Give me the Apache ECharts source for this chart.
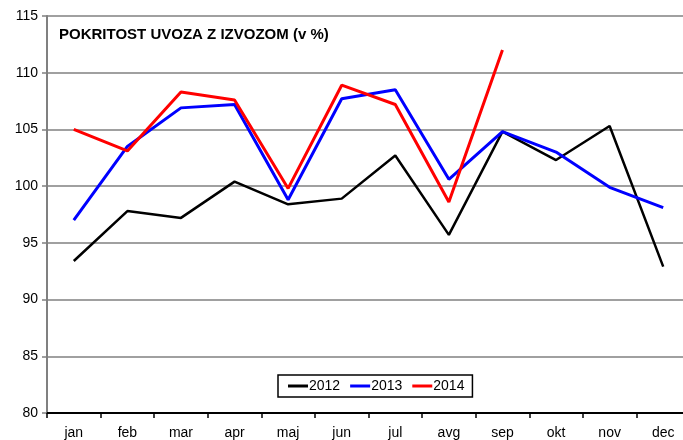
<!DOCTYPE html>
<html>
<head>
<meta charset="utf-8">
<script src="https://cdn.jsdelivr.net/npm/echarts@6/dist/echarts.min.js"></script>
<style>
  html, body { margin: 0; padding: 0; background: #fff; }
  #chart { width: 683px; height: 440px; }
</style>
</head>
<body>
<div id="chart"></div>
<script>
const months = ['jan', 'feb', 'mar', 'apr', 'maj', 'jun', 'jul', 'avg', 'sep', 'okt', 'nov', 'dec'];
const y2012 = [93.4, 97.8, 97.2, 100.4, 98.4, 98.9, 102.7, 95.7, 104.8, 102.3, 105.3, 92.9];
const y2013 = [97.0, 103.5, 106.9, 107.2, 98.8, 107.7, 108.5, 100.6, 104.8, 103.0, 99.9, 98.1];
const y2014 = [105.0, 103.1, 108.3, 107.6, 99.8, 108.9, 107.2, 98.6, 112.0];

const chart = echarts.init(document.getElementById('chart'));

const lineSeries = (name, data, color, width) => ({
  name: name,
  type: 'line',
  data: data,
  symbol: 'none',
  lineStyle: { color: color, width: width },
  itemStyle: { color: color },
  animation: false
});

chart.setOption({
  textStyle: { fontFamily: 'Liberation Sans, Arial, sans-serif' },
  title: {
    text: 'POKRITOST UVOZA Z IZVOZOM (v %)',
    left: 54,
    top: 22,
    textStyle: { fontSize: 15, fontWeight: 'bold', color: '#000' }
  },
  legend: {
    left: 278,
    top: 375,
    padding: [4, 8, 4, 10],
    borderColor: '#000',
    borderWidth: 1.5,
    borderRadius: 0,
    itemGap: 10,
    itemWidth: 20,
    itemHeight: 3,
    icon: 'rect',
    textStyle: { fontSize: 14, color: '#000', padding: [0, 0, 0, -4] },
    data: ['2012', '2013', '2014']
  },
  grid: { left: 47, width: 643, top: 16, bottom: 27, outerBoundsMode: 'none', containLabel: false },
  xAxis: {
    type: 'category',
    data: months,
    boundaryGap: true,
    axisLine: { lineStyle: { color: '#000', width: 2 } },
    axisTick: { show: true, length: 5, lineStyle: { color: '#000', width: 1.5 } },
    axisLabel: { color: '#000', fontSize: 14, margin: 13 },
    splitLine: { show: false }
  },
  yAxis: {
    type: 'value',
    min: 80,
    max: 115,
    interval: 5,
    axisLine: { show: true, lineStyle: { color: '#808080', width: 2 } },
    axisTick: { show: true, length: 5, lineStyle: { color: '#808080', width: 1.5 } },
    axisLabel: { color: '#000', fontSize: 14, margin: 9 },
    splitLine: { lineStyle: { color: '#808080', width: 1.5 } }
  },
  series: [
    lineSeries('2012', y2012, '#000000', 2.5),
    lineSeries('2013', y2013, '#0000ff', 3),
    lineSeries('2014', y2014, '#ff0000', 3)
  ]
});
</script>
</body>
</html>
